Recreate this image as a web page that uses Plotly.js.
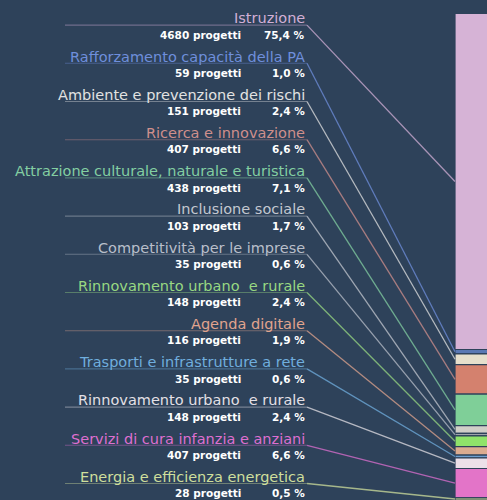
<!DOCTYPE html>
<html>
<head>
<meta charset="utf-8">
<script src="https://cdn.plot.ly/plotly-3.0.1.min.js"></script>
<style>html,body{margin:0;padding:0;background:#2e425a;}#chart{width:487px;height:500px;}</style>
</head>
<body>
<div id="chart"></div>
<script>
// ---- data ----
var categories = [
  "Istruzione",
  "Rafforzamento capacità della PA",
  "Ambiente e prevenzione dei rischi",
  "Ricerca e innovazione",
  "Attrazione culturale, naturale e turistica",
  "Inclusione sociale",
  "Competitività per le imprese",
  "Rinnovamento urbano  e rurale",
  "Agenda digitale",
  "Trasporti e infrastrutture a rete",
  "Rinnovamento urbano  e rurale",
  "Servizi di cura infanzia e anziani",
  "Energia e efficienza energetica"
];
var projects = [4680, 59, 151, 407, 438, 103, 35, 148, 116, 35, 148, 407, 28];
var percents = [75.4, 1.0, 2.4, 6.6, 7.1, 1.7, 0.6, 2.4, 1.9, 0.6, 2.4, 6.6, 0.5];
var textColors = ["#d2afd6", "#6f8fdc", "#e2e2e2", "#cf8f8c", "#83cfa2", "#c4c8d0", "#b9bfca",
                  "#98d882", "#e0a48e", "#70aede", "#e4e0e6", "#de6fd0", "#cfdf9c"];
var barColors  = ["#d6b3d6", "#5a78b4", "#e6dfcc", "#d4816e", "#7fcf98", "#d0cec8", "#9ea3aa",
                  "#8fe36a", "#dcac90", "#6fa0d0", "#ece0e8", "#e374c8", "#d0e090"];

// ---- layout helpers ----
var BG = "#2e425a";
var pxPerUnit = 336 / 75.4;
var topPx = 13.5;
function px2y(p) { return (p - topPx) / pxPerUnit; }

var bases = [];
var acc = 0;
for (var i = 0; i < percents.length; i++) { bases.push(acc); acc += percents[i]; }

var traces = [];
var annotations = [];
for (var i = 0; i < categories.length; i++) {
  var nameY = 18.3 + 38.2 * i;
  var lineY = px2y(nameY + 6.8);
  var mid = bases[i] + percents[i] / 2;
  traces.push({
    type: "scatter", mode: "lines",
    x: [65, 307], y: [lineY, lineY],
    line: {color: textColors[i], width: 1.1},
    opacity: 0.4, hoverinfo: "skip", showlegend: false
  });
  traces.push({
    type: "scatter", mode: "lines",
    x: [307, 455], y: [lineY, mid],
    line: {color: textColors[i], width: 1.3},
    opacity: 0.75, hoverinfo: "skip", showlegend: false
  });
  annotations.push({
    x: 307, y: px2y(nameY), xref: "x", yref: "y", xanchor: "right", yanchor: "middle",
    text: categories[i], showarrow: false,
    font: {family: "DejaVu Sans", size: 14.5, color: textColors[i]}
  });
  annotations.push({
    x: 243, y: px2y(nameY + 16.5), xref: "x", yref: "y", xanchor: "right", yanchor: "middle",
    text: projects[i] + " progetti", showarrow: false,
    font: {family: "DejaVu Sans", size: 10.5, color: "#ffffff", weight: "bold"}
  });
  annotations.push({
    x: 307, y: px2y(nameY + 16.5), xref: "x", yref: "y", xanchor: "right", yanchor: "middle",
    text: percents[i].toFixed(1).replace(".", ",") + " %", showarrow: false,
    font: {family: "DejaVu Sans", size: 10.5, color: "#ffffff", weight: "bold"}
  });
}

traces.push({
  type: "bar",
  x: percents.map(function () { return 472; }),
  y: percents,
  base: bases,
  width: 34,
  marker: {color: barColors, line: {color: BG, width: 1.2}},
  hoverinfo: "skip", showlegend: false
});

var layout = {
  width: 487, height: 500,
  margin: {l: 0, r: 0, t: 0, b: 0},
  paper_bgcolor: BG, plot_bgcolor: BG,
  barmode: "overlay",
  showlegend: false,
  xaxis: {range: [0, 487], visible: false, fixedrange: true},
  yaxis: {range: [px2y(500), px2y(0)], visible: false, fixedrange: true},
  annotations: annotations
};

Plotly.newPlot("chart", traces, layout, {displayModeBar: false, staticPlot: true});
</script>
</body>
</html>
